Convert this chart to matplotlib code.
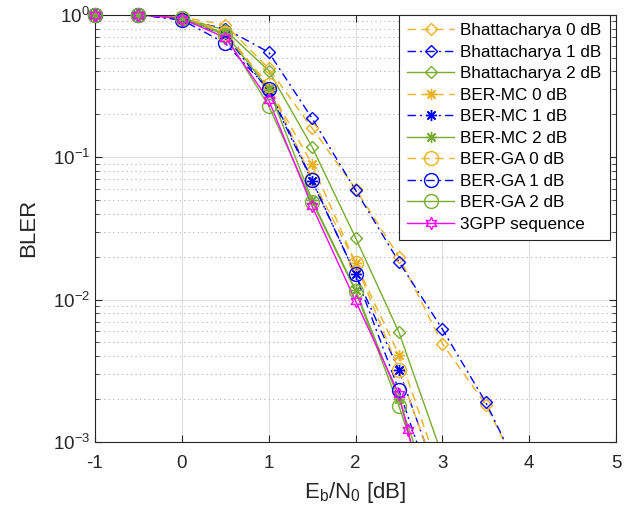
import matplotlib
matplotlib.use("Agg")
import matplotlib.pyplot as plt
from matplotlib.ticker import LogLocator, NullFormatter

plt.rcParams['font.family'] = ['Liberation Sans', 'DejaVu Sans']
plt.rcParams['mathtext.fontset'] = 'custom'
plt.rcParams['mathtext.rm'] = 'Liberation Sans'
plt.rcParams['mathtext.it'] = 'Liberation Sans'

# ---- data ----
ebn0 = [-1, -0.5, 0, 0.5, 1, 1.5, 2, 2.5, 3, 3.5, 4]
bhat0 = [1, 1, 0.96, 0.85, 0.42, 0.16, 0.060, 0.020, 0.0049, 0.00183, 0.00045]
bhat1 = [1, 1, 0.92, 0.80, 0.545, 0.187, 0.0587, 0.0184, 0.0062, 0.0019, 0.00045]
bhat2 = [1, 1, 0.95, 0.78, 0.405, 0.118, 0.0272, 0.0059, 0.0008]
mc0 = [1, 1, 0.95, 0.77, 0.31, 0.089, 0.0181, 0.0041, 0.00055]
mc1 = [1, 1, 0.93, 0.72, 0.29, 0.068, 0.0150, 0.0032, 0.00045]
mc2 = [1, 1, 0.95, 0.74, 0.30, 0.050, 0.0117, 0.0020, 0.00025]
ga0 = [1, 1, 0.95, 0.74, 0.32, 0.070, 0.0181, 0.0032, 0.00045]
ga1 = [1, 1, 0.92, 0.63, 0.30, 0.069, 0.0150, 0.00231, 0.00030]
ga2 = [1, 1, 0.95, 0.72, 0.229, 0.0487, 0.0115, 0.00179, 0.00022]
ebn0_3gpp = [-1, -0.5, 0, 0.5, 1, 1.5, 2, 2.5, 2.6, 2.7]
gpp = [1, 1, 0.94, 0.69, 0.252, 0.0452, 0.0098, 0.00217, 0.00122, 0.00068]

labels = ['Bhattacharya 0 dB', 'Bhattacharya 1 dB', 'Bhattacharya 2 dB',
          'BER-MC 0 dB', 'BER-MC 1 dB', 'BER-MC 2 dB',
          'BER-GA 0 dB', 'BER-GA 1 dB', 'BER-GA 2 dB', '3GPP sequence']

orange = '#EDB120'
blue = '#0000FF'
green = '#77AC30'
magenta = '#FF00FF'

fig = plt.figure(figsize=(6.37, 5.16), dpi=100)
ax = fig.add_axes([95/637, 1-442/516, 521/637, (442-14.7)/516])

dash = (0, (6, 4))
dashdot = (0, (6, 3, 1.5, 3))
asterisk = (8, 2, 0)
hexagram = (6, 1, 0)
series = [
    (ebn0, bhat0, orange, dash, 'D', 6),
    (ebn0, bhat1, blue, dashdot, 'D', 6),
    (ebn0, bhat2, green, '-', 'D', 6),
    (ebn0, mc0, orange, dash, asterisk, 8),
    (ebn0, mc1, blue, dashdot, asterisk, 8),
    (ebn0, mc2, green, '-', asterisk, 8),
    (ebn0, ga0, orange, dash, 'o', 10),
    (ebn0, ga1, blue, dashdot, 'o', 10),
    (ebn0, ga2, green, '-', 'o', 10),
    (ebn0_3gpp, gpp, magenta, '-', hexagram, 9),
]
handles = []
for (xs, ys, c, ls, mk, ms), lab in zip(series, labels):
    xs = xs[:len(ys)]
    ax.semilogy(xs, ys, color=c, linestyle=ls, linewidth=1.0)
    handles.append(ax.plot([], [], color=c, linestyle=ls, marker=mk,
                           markersize=ms, markerfacecolor='none',
                           markeredgecolor=c, markeredgewidth=1.0,
                           linewidth=1.0, label=lab)[0])
    xin = [x for x, y in zip(xs, ys) if y >= 1e-3]
    yin = [y for y in ys if y >= 1e-3]
    ax.plot(xin, yin, linestyle='none', marker=mk, markersize=ms,
            markerfacecolor='none', markeredgecolor=c, markeredgewidth=1.0,
            clip_on=False, zorder=3)

ax.set_xlim(-1, 5)
ax.set_ylim(1e-3, 1)
ax.set_xticks([-1, 0, 1, 2, 3, 4, 5])
ax.set_xticklabels(['-1', '0', '1', '2', '3', '4', '5'])
ax.yaxis.set_major_locator(LogLocator(base=10, numticks=10))
ax.yaxis.set_minor_locator(LogLocator(base=10, subs=range(2, 10), numticks=20))
ax.yaxis.set_minor_formatter(NullFormatter())

ax.grid(True, which='major', color='#DCDCDC', linewidth=0.8, linestyle='-')
ax.grid(True, which='minor', axis='y', color='#B0B0B0', linewidth=0.8, linestyle=(0, (1, 3)))
ax.set_axisbelow(True)

ax.tick_params(which='both', direction='in', top=True, right=True,
               labelsize=13.5, colors='#262626', length=5)
ax.tick_params(axis='x', pad=9)
ax.tick_params(which='minor', length=3)
for s in ax.spines.values():
    s.set_color('#262626')
    s.set_linewidth(0.8)

ax.set_xlabel(r'E$_{\rm b}$/N$_{\rm 0}$ [dB]', fontsize=16, color='#262626', labelpad=6)
ax.set_ylabel('BLER', fontsize=16, color='#262626', labelpad=10)

leg = ax.legend(handles=handles, loc='upper right', bbox_to_anchor=(1 - 6/521, 1.0),
                borderaxespad=0, fontsize=12.3, fancybox=False, framealpha=1,
                edgecolor='#262626', handlelength=2.75, labelspacing=0.38,
                borderpad=0.5, handletextpad=0.35)
leg.get_frame().set_linewidth(0.8)

fig.savefig('out.png', dpi=100)
